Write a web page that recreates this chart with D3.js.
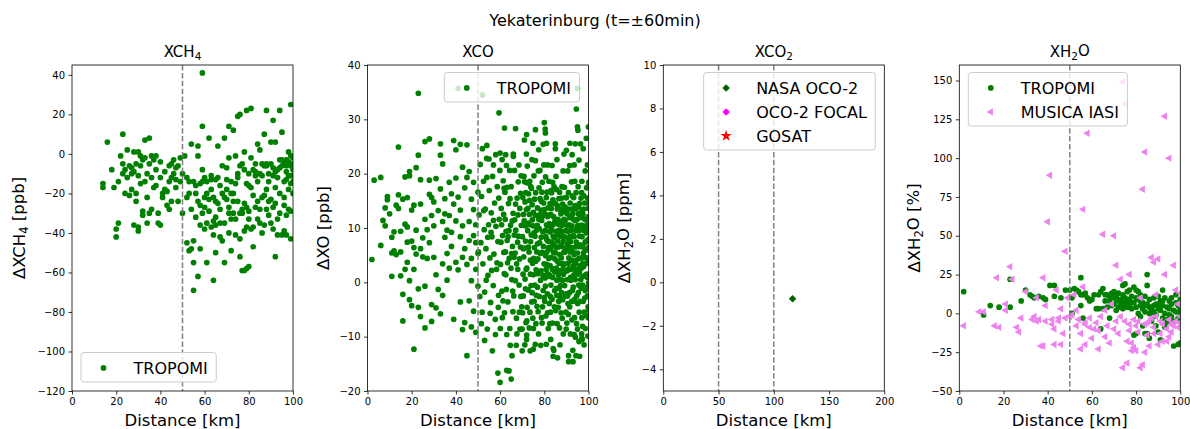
<!DOCTYPE html>
<html>
<head>
<meta charset="utf-8">
<script src="https://cdn.jsdelivr.net/npm/d3@7"></script>
<style>
  body { margin: 0; background: #fff; }
  svg { font-family: "DejaVu Sans", sans-serif; }
</style>
</head>
<body>
<div id="chart"></div>
<script>
// ---- data ----
var suptitle = "Yekaterinburg (t=\u00b160min)";

// XCH4, TROPOMI  [distance km, delta ppb]
var ch4Tropomi = [
  [14,-15],[14,-17],[16,6],[18,-8],[19,-17],[20,-38],[20,-42],[21,-35],[21,-14],[23,10],[23,-5],[23,-10],[24,-8],[24,-20],
  [25,2],[25,-12],[26,-21],[27,-7],[27,-18],[28,1],[28,-36],[28,-9],[29,-5],[29,-20],[29,-24],[30,1],[30,-37],[30,-39],
  [30,-11],[31,-1],[31,-6],[32,-29],[32,-31],[33,7],[33,-14],[33,-2],[34,-10],[34,-22],[34,-35],[35,-5],[35,-30],[35,8],
  [36,-12],[36,-28],[37,-3],[37,-17],[38,-8],[38,-16],[38,-1],[39,-30],[39,-35],[40,-36],[40,-4],[40,-12],[41,-22],[41,-20],
  [42,-18],[42,-9],[43,-26],[43,-19],[44,-28],[44,-6],[45,-12],[45,-24],[46,-3],[46,-10],[47,-17],[47,-13],[48,-24],[48,-6],
  [49,-2],[49,-14],[50,-30],[50,-10],[51,-1],[26,-6],[22,-1],[32,-3],[36,-1],[44,-14],[27,-10],[31,-15],[45,-5],[47,-7],
  [52,-12],[52,-22],[52,-45],[53,-49],[53,-14],[54,5],[54,-28],[54,-48],[55,-55],[55,-69],[55,-44],[55,-14],[56,-20],[56,-32],
  [57,-62],[57,-1],[57,4],[58,-26],[58,-36],[58,-48],[58,-15],[59,41],[59,14],[59,-8],[59,-14],[60,-38],[60,-22],[60,-27],
  [61,-55],[61,-20],[62,8],[62,-23],[62,-29],[63,-13],[63,-11],[64,-64],[64,-41],[64,-34],[64,-22],[65,-50],[65,-13],[65,-32],
  [66,4],[66,-25],[67,-16],[67,-35],[67,-28],[68,-20],[68,-44],[69,8],[69,-55],[69,-35],[70,-7],[70,-23],[70,-13],[71,14],
  [71,-2],[71,-40],[71,-27],[72,-14],[72,-49],[72,-33],[73,12],[73,-24],[73,-30],[74,-1],[74,-41],[75,19],[75,-10],[75,-24],
  [75,-12],[76,20],[76,-52],[76,-43],[77,-28],[77,-59],[77,-30],[78,1],[78,-59],[78,-8],[78,-39],[79,22],[79,-27],[79,-58],
  [80,-10],[80,-29],[80,-33],[80,-57],[81,-2],[81,-17],[81,23],[82,-47],[82,-37],[82,-21],[83,-9],[83,-11],[84,5],[84,-24],
  [84,-33],[85,2],[85,-10],[85,-35],[86,-40],[86,-22],[86,-11],[87,10],[87,-6],[87,-36],[88,22],[88,-18],[88,-28],[88,-5],
  [89,-14],[89,-31],[89,-10],[90,-23],[90,-35],[90,6],[91,17],[91,-11],[91,-27],[91,-38],[92,6],[92,-52],[92,-17],[93,-12],
  [93,-8],[93,-33],[93,-41],[94,-3],[94,22],[94,-20],[95,-41],[95,-6],[95,11],[96,-22],[96,-14],[96,-26],[97,-31],[97,-9],
  [97,-13],[98,1],[98,-4],[98,-28],[98,-18],[99,25],[99,-6],[99,-43],[99,-11],[100,-5],[100,-14],[100,-8],[100,-2],[100,-20],
  [60,-12],[61,-14],[63,-18],[65,-24],[66,-12],[68,-6],[70,-18],[72,-20],[74,-15],[76,-6],[77,-5],[79,-15],[80,-16],[82,-8],
  [83,-5],[84,-14],[86,-5],[88,-6],[90,-5],[91,-7],[92,-9],[94,-7],[96,-5],[97,-3],[98,-11],[99,-15],[100,-11],[53,-20],
  [56,-16],[57,-24],[59,-30],[61,-35],[63,-37],[65,-36],[67,-42],[69,-22],[71,-30],[73,-20],[74,-33],[76,-30],[78,-25],
  [79,-37],[81,-38],[83,-27],[85,-28],[87,-21],[89,-24],[92,-25],[94,-30],[96,-39],[97,-41],[99,-29],[95,-3],[97,-6],[99,-1]
];

// XCO, TROPOMI  [distance km, delta ppb]
var coTropomi = [
  [2,4.2],[3,18.8],[6,19.3],[6,6.8],[7,11.4],[8,13.7],[8,10.4],[9,15.2],[9,15.8],[10,12.6],[11,8.3],[11,1.1],[11,5.4],[12,5.8],
  [12,9.3],[13,14.2],[13,5.1],[14,16.1],[14,24.9],[14,13.6],[15,9.4],[15,5.6],[15,1.2],[16,15.3],[16,-7.1],[16,-2.2],[17,2.4],
  [17,10.7],[17,19.4],[18,15.6],[18,10.2],[18,7.4],[18,3.7],[19,-3.2],[19,19.6],[19,0.3],[19,20.4],[20,-4.3],[20,13.3],[20,7.6],
  [21,-12.3],[21,14.2],[21,2.4],[21,6.4],[22,21.1],[22,9.6],[22,5.2],[23,34.8],[23,23.4],[23,-1.2],[23,-4.6],[24,14.4],[24,6.2],
  [24,-6.3],[24,18.9],[25,4.7],[25,8.2],[26,-8.4],[26,25.9],[26,11.6],[26,-0.7],[27,4.4],[27,9.7],[28,26.4],[28,16.2],[28,7.3],
  [28,18.8],[29,-4.1],[29,-7.2],[29,15.6],[29,12.3],[30,4.6],[30,14.8],[30,10.4],[31,-4.7],[31,19.1],[31,1.4],[32,13.2],[32,-1.3],
  [33,25.5],[33,23.4],[33,-5.8],[33,17.2],[34,21.8],[34,3.4],[34,-2.4],[34,11.2],[35,12.6],[35,8.3],[35,15.4],[36,5.3],[36,0.4],
  [36,9.6],[37,12.3],[37,18.4],[37,2.6],[38,9.2],[38,16.3],[38,6.6],[39,26.1],[39,-6.8],[39,14.4],[40,24.4],[40,11.3],[40,3.7],
  [40,19.2],[41,2.3],[41,15.7],[42,25.4],[42,8.4],[42,-3.6],[42,13.3],[43,21.2],[43,-8.7],[43,10.4],[43,4.6],[44,6.2],[44,-7.4],
  [44,17.4],[45,25.3],[45,-13.5],[45,19.3],[45,3.3],[46,11.2],[46,-3.4],[46,20.4],[46,7.7],[47,15.3],[47,-8.2],[47,4.4],[47,0.3],
  [48,13.4],[48,-5.3],[48,18.4],[48,8.6],[49,-9.2],[49,2.4],[49,7.3],[49,10.6],[50,16.6],[50,-0.7],[50,5.3],[41,35.7],
  [50.5,12.4],[50.8,-2.6],[51,21.7],[51.3,7.3],[51.6,15.8],[51.9,-5.5],[52.2,3.4],[52.5,18.6],[52.8,9.7],[53,-1.8],[53.3,13.5],
  [53.6,6.2],[53.9,22.8],[54.2,-8.6],[54.5,1.3],[54.8,10.6],[55.1,16.9],[55.4,4.5],[55.7,-3.7],[56,12.8],[56.3,8.4],[56.6,19.5],
  [56.9,-0.6],[57.2,5.2],[57.5,14.6],[57.8,-6.8],[58.1,10.3],[58.4,2.4],[58.7,17.6],[59,7.5],[59.3,-2.4],[59.6,11.6],[59.9,20.6],
  [50.2,5.6],[51.5,-7.6],[52.6,13.2],[53.7,0.4],[54.4,8.3],[55.5,-5.7],[56.2,2.2],[57,11.4],[57.9,-9.6],[58.6,3.6],[59.4,15.5],
  [55.9,9.2],[52,24.6],[54,19.3],[58,23.5],[53,-10.7],[56.5,-12.6],[59.2,-4.6],
  [60.2,3.3],[60.5,13.6],[60.8,-1.6],[61.1,8.6],[61.4,18.7],[61.7,5.5],[62,-5.6],[62.3,11.6],[62.6,1.4],[62.9,21.5],[63.2,7.7],
  [63.5,-3.6],[63.8,14.5],[64.1,4.4],[64.4,-8.5],[64.7,10.5],[65,17.6],[65.3,0.5],[65.6,6.6],[65.9,12.7],[66.2,-2.5],[66.5,20.6],
  [66.8,5.4],[67.1,9.6],[67.4,-6.6],[67.7,15.5],[68,2.4],[68.3,8.5],[68.6,-0.5],[68.9,13.6],[69.2,6.5],[69.5,19.6],[69.8,-4.5],
  [60.4,7.4],[61,-6.5],[61.6,12.5],[62.2,16.6],[62.8,-1.3],[63.4,3.6],[64,9.5],[64.6,-11.6],[65.2,5.3],[65.8,-5.4],[66.4,8.7],
  [67,14.4],[67.6,-9.5],[68.2,18.5],[68.8,4.3],[69.4,-2.6],[60.9,22.6],[62.5,23.5],[64.3,20.6],[66,23.6],[68.5,21.6],[61.3,-3.4],
  [63,-9.6],[65.4,-13.5],[67.3,-11.6],[69,-8.6],[60.7,10.6],[61.9,1.6],[63.6,8.4],[64.9,2.6],[66.6,11.5],[67.9,7.4],[69.6,10.5],
  [62.4,5.6],[64.5,15.4],[66.9,0.3],[68.1,12.4],[63.1,17.5],[65.5,11.3],[67.5,3.4],[69.3,16.4],[60.1,-8.5],[61.8,17.3],
  [65.7,-1.6],[68.7,-5.5],[62.7,9.4],[66.3,4.6],
  [70.1,8.4],[70.3,15.6],[70.5,-2.5],[70.7,4.7],[70.9,11.3],[71.1,18.5],[71.3,0.6],[71.5,7.6],[71.7,-7.4],[71.9,13.4],[72.1,2.6],
  [72.3,21.4],[72.5,9.5],[72.7,-1.4],[72.9,16.3],[73.1,5.6],[73.3,12.5],[73.5,-5.5],[73.7,1.5],[73.9,17.6],[74.1,8.7],[74.3,-3.6],
  [74.5,14.3],[74.7,3.5],[74.9,10.4],[75.1,-8.5],[75.3,19.6],[75.5,6.4],[75.7,-0.5],[75.9,12.3],[76.1,16.5],[76.3,2.3],[76.5,9.6],
  [76.7,-4.4],[76.9,13.7],[77.1,4.3],[77.3,20.5],[77.5,11.6],[77.7,-2.6],[77.9,7.3],[78.1,15.4],[78.3,0.4],[78.5,13.3],[78.7,-6.5],
  [78.9,5.5],[79.1,18.4],[79.3,9.3],[79.5,-1.5],[79.7,14.6],[79.9,3.4],[70.2,-5.6],[70.8,19.5],[71.4,10.4],[72,-10.5],[72.6,13.6],
  [73.2,-8.4],[73.8,7.5],[74.4,22.6],[75,1.4],[75.6,15.3],[76.2,-7.6],[76.8,10.5],[77.4,-9.5],[78,20.6],[78.6,8.3],[79.2,-4.5],
  [79.8,21.6],[70.4,1.5],[71,6.3],[71.6,16.5],[72.2,-4.6],[72.8,6.5],[73.4,18.6],[74,-0.6],[74.6,11.5],[75.2,4.4],[75.8,8.5],
  [76.4,-2.4],[77,1.6],[77.6,17.4],[78.2,5.3],[78.8,11.4],[79.4,1.3],[70.6,12.5],[71.8,2.4],[73,10.6],[74.2,17.3],[75.4,-3.5],
  [76.6,5.6],[77.8,12.4],[79,-7.5],[71.2,-11.5],[73.6,-12.6],[75.9,-11.4],[78.4,-11.6],[74.8,-6.6],[77.2,-5.4],[79.6,6.6],
  [72.4,18.3],[76,22.4],[78.9,16.6],[70,-8.6],[71.9,23.6],[74.9,25.6],[77.5,24.4],[79.5,25.4],
  [70.5,6.2],[71.3,14.8],[72.1,-7.1],[72.9,10.9],[73.7,4.1],[74.5,-1.9],[75.3,9.1],[76.1,3.9],[76.9,-0.9],[77.7,9.9],[78.5,2.1],
  [79.3,12.2],[71.5,-1.2],[73.3,15.1],[75.1,12.9],[76.9,7.1],[78.7,14.9],[79.9,-2.8],
  [80.1,5.3],[80.3,12.6],[80.5,-0.7],[80.7,8.4],[80.9,15.6],[81.1,3.3],[81.3,10.4],[81.5,-5.6],[81.7,13.7],[81.9,6.4],[82.1,18.6],
  [82.3,1.4],[82.5,9.3],[82.7,-2.6],[82.9,12.5],[83.1,4.6],[83.3,16.5],[83.5,7.4],[83.7,-7.5],[83.9,10.6],[84.1,2.5],[84.3,14.6],
  [84.5,8.3],[84.7,-1.5],[84.9,11.5],[85.1,5.4],[85.3,19.5],[85.5,9.4],[85.7,0.4],[85.9,13.5],[86.1,6.5],[86.3,-4.6],[86.5,10.7],
  [86.7,3.5],[86.9,16.6],[87.1,8.5],[87.3,-0.6],[87.5,12.6],[87.7,4.5],[87.9,10.5],[88.1,-6.6],[88.3,14.4],[88.5,7.6],[88.7,1.5],
  [88.9,11.6],[89.1,17.5],[89.3,5.6],[89.5,-2.5],[89.7,9.5],[89.9,13.4],
  [80.2,-3.5],[80.6,19.4],[81,10.6],[81.4,1.6],[81.8,-8.5],[82.2,7.5],[82.6,14.5],[83,-0.5],[83.4,9.6],[83.8,18.4],[84.2,5.5],
  [84.6,-4.5],[85,14.5],[85.4,2.6],[85.8,-7.6],[86.2,11.6],[86.6,15.4],[87,-2.6],[87.4,6.6],[87.8,15.5],[88.2,3.4],[88.6,-9.5],
  [89,8.4],[89.4,11.4],[89.8,-5.5],
  [80.4,9.5],[80.8,2.4],[81.2,16.6],[81.6,7.6],[82,4.4],[82.4,12.4],[82.8,-5.5],[83.2,13.6],[83.6,2.4],[84,8.5],[84.4,17.6],
  [84.8,4.3],[85.2,11.4],[85.6,-2.4],[86,7.6],[86.4,1.4],[86.8,9.6],[87.2,13.5],[87.6,-5.6],[88,9.4],[88.4,10.6],[88.8,5.5],
  [89.2,-0.6],[89.6,15.6],
  [80,13.4],[81.5,21.6],[82.9,-10.5],[84.3,-12.5],[85.7,22.6],[87.1,-11.5],[88.5,20.5],[89.9,-8.6],[80.9,-11.4],[83.5,21.5],
  [86.9,-8.4],[88,17.6],[84,-13.6],[81,25.6],[85,24.6],[88.9,23.6],[80.5,27.5],[82.5,-7.6],[86.5,-3.5],[83,6.4],[87,0.5],[89,3.4],
  [81.2,5.6],[85.5,6.4],[88.3,0.4],
  [80.3,0.8],[80.7,-6.2],[81.1,7.9],[81.5,12.1],[81.9,1.1],[82.3,-3.9],[82.7,6.1],[83.1,9.9],[83.5,-3.1],[83.9,15.2],[84.3,6.8],
  [84.7,1.9],[85.1,-5.2],[85.5,17.1],[85.9,3.9],[86.3,8.8],[86.7,-1.1],[87.1,11.1],[87.5,2.2],[87.9,6.9],[88.3,-3.2],[88.7,13.1],
  [89.1,2.1],[89.5,6.1],[89.9,-2.1],[80.6,4.9],[81.4,-2.1],[82.2,10.8],[83,16.9],[83.8,0.9],[84.6,10.9],[85.4,-1.1],[86.2,1.9],
  [87,5.1],[87.8,-1.9],[88.6,3.1],[89.4,13.9],[82.6,3.1],[84.2,12.1],[86,14.1],[88,12.9],
  [90.1,6.4],[90.3,12.6],[90.5,0.5],[90.7,9.4],[90.9,16.5],[91.1,4.5],[91.3,10.6],[91.5,-4.5],[91.7,14.6],[91.9,7.5],[92.1,2.4],
  [92.3,18.5],[92.5,10.4],[92.7,-1.5],[92.9,12.6],[93.1,5.5],[93.3,15.6],[93.5,8.4],[93.7,-6.5],[93.9,11.4],[94.1,3.4],[94.3,13.5],
  [94.5,7.4],[94.7,-2.5],[94.9,11.6],[95.1,1.5],[95.3,17.6],[95.5,9.5],[95.7,4.4],[95.9,14.5],[96.1,6.6],[96.3,-3.5],[96.5,10.5],
  [96.7,2.6],[96.9,16.5],[97.1,8.4],[97.3,-0.5],[97.5,12.5],[97.7,5.4],[97.9,9.6],[98.1,-5.5],[98.3,14.6],[98.5,7.4],[98.7,1.4],
  [98.9,11.5],[99.1,17.4],[99.3,4.5],[99.5,-2.5],[99.7,9.4],[99.9,13.6],
  [90.2,-7.5],[90.6,20.5],[91,2.5],[91.4,8.4],[91.8,-9.5],[92.2,6.4],[92.6,13.5],[93,-3.5],[93.4,1.4],[93.8,18.6],[94.2,9.5],
  [94.6,-7.6],[95,5.4],[95.4,12.6],[95.8,-5.5],[96.2,10.4],[96.6,15.5],[97,-6.5],[97.4,3.5],[97.8,13.5],[98.2,4.6],[98.6,-8.5],
  [99,7.5],[99.4,10.6],[99.8,-4.5],
  [90.4,10.5],[90.8,3.5],[91.2,13.5],[91.6,5.6],[92,9.6],[92.4,-3.5],[92.8,8.5],[93.2,11.6],[93.6,3.4],[94,6.5],[94.4,16.5],
  [94.8,2.4],[95.2,10.5],[95.6,-0.5],[96,8.5],[96.4,12.5],[96.8,4.5],[97.2,10.5],[97.6,-3.5],[98,9.5],[98.4,11.6],[98.8,3.5],
  [99.2,1.5],[99.6,15.5],[100,6.4],
  [90,15.6],[91.5,21.5],[92.9,-12.5],[94.3,-13.5],[95.7,22.5],[97.1,-10.5],[98.5,20.5],[99.9,-6.5],[91,-13.5],[93.5,21.6],
  [96.9,-9.5],[98,-11.5],[94,25.5],[91.6,25.6],[95,28.6],[96.4,25.5],[99,26.5],[100,28.6],[94.5,31.9],[95.2,28],[97.6,24.6],
  [92.6,23.5],[99.5,21.6],[90.5,-2.5],[92,0.4],[93,8.6],[94,0.5],[95.5,6.6],[96.5,0.5],[97.5,6.5],[98.5,-1.5],[99.5,3.5],
  [100,1.4],[100,10.4],[100,-2.6],[100,14.6],[99.8,17.6],[97,18.6],[95,-8.6],[93,-14.6],[96,-13.6],[91,-14.6],[93.5,-9.6],
  [90.3,2.1],[90.7,-3.9],[91.1,7.9],[91.5,11.9],[91.9,0.9],[92.3,4.1],[92.7,15.9],[93.1,-0.9],[93.5,5.1],[93.9,14.1],[94.3,2.1],
  [94.7,9.9],[95.1,-3.9],[95.5,13.9],[95.9,1.9],[96.3,6.9],[96.7,-1.1],[97.1,11.9],[97.5,1.1],[97.9,15.9],[98.3,-2.9],[98.7,5.9],
  [99.1,9.1],[99.5,0.9],[99.9,7.9],[90.6,7.1],[91.4,-1.9],[92.2,12.1],[93,2.9],[93.8,-3.1],[94.6,4.1],[95.4,-1.9],[96.2,3.1],
  [97,13.1],[97.8,2.9],[98.6,10.1],[99.4,-0.9],[100,4.1],[100,-5.1],[100,12.1],[100,7.9],[100,18.4],[100,-0.1],[90.9,-5.9],
  [92.5,-6.9],[94.1,-10.1],[95.7,-10.9],[97.3,-8.1],[98.9,-6.1],[99.7,-9.9],
  [59,-16.7],[60,-18.4],[63,-16.2],[64,-16.3],[65,-17.8],[70,-12.6],[72,-9.7],[75,-12.3],[59.5,31.2],[62,28.4],[67,28.3],[71,26.2],
  [72,27.2],[76,28.1],[80,29.4],[80.4,28.2],[52,34.5],[54,25.2],[60,23.8],[55,22.7],[57,21.6],[66,23.2],[85,25.5],[90,24.3],
  [95,35.7],[84,-12.2],[86,-13.9],[97,-10.3]
];

// XCO2
var co2Oco2 = [[117,-0.75]];
var co2Focal = [];
var co2Gosat = [];

// XH2O  [distance km, delta %]
var h2oTropomi = [
  [2,14],[11,-1],[14,5],[18,4],[23,4],[23,22],[28,8],[30,15],[32,12],[33,11],[34,10],[36,11],[38,10],[39,9],[41,18],[43,18],
  [43,11],[46,10],[48,15],[50,15],[51,10],[51,0],[52,16],[53,15],[54,14],[55,23],[55,5],[55,12],[56,12],[56,-3],[57,13],
  [58,10],[59,8],[60,9],[61,12],[62,3],[63,3],[63,12],[64,-10],[64,14],[65,16],[65,3],[66,12],[67,12],[67,4],[68,-3],[68,8],
  [69,13],[69,5],[70,10],[70,14],[71,11],[71,9],[71,2],[72,8],[72,13],[73,6],[73,9],[74,12],[74,3],[74,18],[75,19],[75,10],
  [75,6],[76,4],[76,14],[77,9],[77,15],[77,5],[78,11],[78,3],[79,7],[79,17],[79,-14],[80,15],[80,4],[80,-13],[81,14],[81,9],
  [81,0],[82,8],[82,12],[82,-2],[83,7],[83,3],[83,-8],[84,5],[84,11],[84,-13],[85,25],[85,18],[85,6],[85,-13],[86,0],[86,-16],
  [86,9],[87,4],[87,2],[87,-5],[88,5],[88,10],[88,-2],[89,-1],[89,6],[89,-8],[90,3],[90,-12],[90,11],[91,-17],[91,8],[91,2],
  [92,15],[92,-3],[92,5],[93,-9],[93,10],[93,0],[94,4],[94,-4],[95,8],[95,3],[95,-1],[96,10],[96,6],[97,-21],[97,2],[97,-5],
  [98,7],[98,1],[99,-20],[99,5],[100,0],[100,-19],[100,9],[100,3],[99,-3],[98,12],[96,-2],[94,-6],[92,8],[90,6],[88,1],[86,4],
  [84,1],[82,5],[80,10],[78,7],[76,8],[74,7],[72,4],[70,6],[68,11],[66,8]
];
var h2oIasi = [
  [2,-8],[9,1],[11,1],[16,-8],[18,-9],[17,23],[21,2],[21,6],[23,30],[24,22],[27,-12],[30,14],[34,-2],[35,-5],[35,10],[37,-21],
  [38,-21],[38,23],[39,5],[39,-5],[40,59],[41,89],[42,-4],[42,-7],[43,-10],[44,15],[45,-5],[46,-20],[46,3],[47,-13],[48,40],
  [49,10],[50,-2],[51,-1],[52,12],[53,2],[54,-4],[55,-13],[55,-23],[56,67],[56,17],[57,-7],[57,-6],[58,116],[59,-3],[60,-16],
  [61,-10],[62,-6],[63,-23],[64,-2],[65,51],[66,-15],[66,2],[67,-8],[68,-19],[70,50],[70,-10],[71,31],[71,-5],[72,-13],[73,-2],
  [73,22],[74,-35],[74,149],[75,135],[75,-5],[76,-32],[77,25],[77,-11],[78,-19],[78,-24],[79,-4],[79,-22],[80,-8],[81,-12],
  [81,-5],[82,-35],[82,10],[83,80],[83,-33],[84,104],[84,-7],[85,-14],[86,-21],[86,-5],[87,36],[87,-3],[88,33],[88,-9],[89,-2],
  [89,12],[90,-20],[90,35],[91,-13],[91,-5],[92,-7],[93,127],[93,25],[94,-18],[94,-10],[95,100],[95,-4],[96,-7],[96,-12],
  [97,31],[97,-8],[98,15],[98,-5],[99,-9],[99,6],[100,-6],[100,13],[100,-2],[84,-25],[80,-24],[77,-7],[76,-18],[69,6],[63,-11],
  [59,-9],[57,-20],[53,-8],[48,-3],[45,-3],[43,-20],[36,-4],[33,-4],[28,-3],[26,-9],[85,-6],[88,-13],[92,-18],[95,-15]
];

var xTicks100 = [0, 20, 40, 60, 80, 100];
var xTicks200 = [0, 50, 100, 150, 200];
var yTicksCh4 = [-120, -100, -80, -60, -40, -20, 0, 20, 40];
var yTicksCo = [-20, -10, 0, 10, 20, 30, 40];
var yTicksCo2 = [-4, -2, 0, 2, 4, 6, 8, 10];
var yTicksH2o = [-50, -25, 0, 25, 50, 75, 100, 125, 150];

// ---- layout ----
var width = 1190, height = 429;
var top_ = 65, bottom_ = 391, axW = 221;
var lefts = [72, 367.5, 663.3, 959.3];

var svg = d3.select("#chart").append("svg")
  .attr("width", width).attr("height", height);

svg.append("text")
  .attr("x", 595).attr("y", 26)
  .attr("text-anchor", "middle")
  .style("font-size", "16px")
  .text(suptitle);

// writes [text, isSub] pieces into a text element
function richText(sel, parts) {
  parts.forEach(function(p) {
    var t = sel.append("tspan").text(p[0]);
    if (p[1]) t.style("font-size", "0.7em").attr("dy", "0.25em");
    else if (sel.selectAll("tspan").size() > 1) t.attr("dy", "-0.25em");
  });
}

var symDiamond = d3.symbol().type(d3.symbolSquare).size(28);
var symTri = d3.symbol().type(d3.symbolTriangle).size(24);
var symStar = d3.symbol().type(d3.symbolStar).size(40);

function placeMarker(g, kind, color, px, py) {
  if (kind === "dot") {
    return g.append("circle").attr("cx", px).attr("cy", py).attr("r", 2.85).attr("fill", color);
  }
  var d = kind === "diamond" ? symDiamond() : kind === "tri" ? symTri() : symStar();
  var rot = kind === "diamond" ? " rotate(45)" : kind === "tri" ? " rotate(-90)" : "";
  return g.append("path").attr("d", d).attr("fill", color)
    .attr("transform", "translate(" + px + "," + py + ")" + rot);
}

function drawPanel(i, cfg) {
  var left = lefts[i];
  var x = d3.scaleLinear().domain(cfg.xDomain).range([left, left + axW]);
  var y = d3.scaleLinear().domain(cfg.yDomain).range([bottom_, top_]);
  var g = svg.append("g");

  var clipId = "clip" + i;
  svg.append("clipPath").attr("id", clipId).append("rect")
    .attr("x", left).attr("y", top_).attr("width", axW).attr("height", bottom_ - top_);

  var plot = g.append("g").attr("clip-path", "url(#" + clipId + ")");
  cfg.series.forEach(function(s) {
    s.data.forEach(function(d) {
      placeMarker(plot, s.marker, s.color, x(d[0]), y(d[1]));
    });
  });

  cfg.vlines.forEach(function(v) {
    plot.append("line")
      .attr("x1", x(v)).attr("x2", x(v)).attr("y1", top_).attr("y2", bottom_)
      .attr("stroke", "#808080").attr("stroke-width", 1.5)
      .attr("stroke-dasharray", "5.5,2.4");
  });

  var xAxis = d3.axisBottom(x).tickValues(cfg.xTicks).tickSize(3.5).tickPadding(3.5).tickSizeOuter(0);
  var yAxis = d3.axisLeft(y).tickValues(cfg.yTicks).tickSize(3.5).tickPadding(3.5).tickSizeOuter(0);
  var gx = g.append("g").attr("transform", "translate(0," + bottom_ + ")").call(xAxis);
  var gy = g.append("g").attr("transform", "translate(" + left + ",0)").call(yAxis);
  [gx, gy].forEach(function(a) {
    a.select(".domain").remove();
    a.selectAll("text").style("font-size", "10px").style("font-family", "DejaVu Sans").attr("fill", "#000");
    a.selectAll("line").attr("stroke", "#000").attr("stroke-width", 0.8);
  });

  g.append("rect")
    .attr("x", left).attr("y", top_).attr("width", axW).attr("height", bottom_ - top_)
    .attr("fill", "none").attr("stroke", "#000").attr("stroke-width", 0.8);

  richText(g.append("text")
    .attr("x", left + axW / 2).attr("y", 57)
    .attr("text-anchor", "middle").style("font-size", "15px"), cfg.title);

  g.append("text")
    .attr("x", left + axW / 2).attr("y", 426)
    .attr("text-anchor", "middle").style("font-size", "16.5px")
    .text("Distance [km]");

  var ly = (top_ + bottom_) / 2, lx = left - cfg.ylabelOffset;
  richText(g.append("text")
    .attr("transform", "translate(" + lx + "," + ly + ") rotate(-90)")
    .attr("y", 6)
    .attr("text-anchor", "middle").style("font-size", "16.5px"), cfg.ylabel);

  // legend
  var leg = g.append("g");
  var box = leg.append("rect")
    .attr("fill", "#fff").attr("fill-opacity", 0.8)
    .attr("stroke", "#cccccc").attr("stroke-width", 1).attr("rx", 3);
  var maxW = 0;
  var items = cfg.series.map(function(s) {
    var t = leg.append("text").style("font-size", "16px").text(s.name);
    maxW = Math.max(maxW, t.node().getComputedTextLength());
    return t;
  });
  var n = cfg.series.length;
  var bw = 52.5 + maxW + 8.5, bh = 29.5 + 24 * (n - 1);
  var bx, by;
  if (cfg.legend === "lower left") { bx = left + 9; by = bottom_ - 9 - bh; }
  else if (cfg.legend === "upper right") { bx = left + axW - 9 - bw; by = top_ + 7.5; }
  else { bx = left + 9; by = top_ + 7.5; }
  box.attr("x", bx).attr("y", by).attr("width", bw).attr("height", bh);
  cfg.series.forEach(function(s, k) {
    var cy = by + 15.4 + 24 * k;
    placeMarker(leg, s.marker, s.color, bx + 22.5, cy);
    items[k].attr("x", bx + 52.5).attr("y", cy + 5.8);
  });
}

drawPanel(0, {
  xDomain: [0, 100], yDomain: [-120, 45], xTicks: xTicks100, yTicks: yTicksCh4,
  title: [["XCH"], ["4", true]], ylabel: [["\u0394XCH"], ["4", true], [" [ppb]"]], ylabelOffset: 53,
  vlines: [50], legend: "lower left",
  series: [{ name: "TROPOMI", data: ch4Tropomi, marker: "dot", color: "#008000" }]
});

drawPanel(1, {
  xDomain: [0, 100], yDomain: [-20, 40], xTicks: xTicks100, yTicks: yTicksCo,
  title: [["XCO"]], ylabel: [["\u0394XO [ppb]"]], ylabelOffset: 44.5,
  vlines: [50], legend: "upper right",
  series: [{ name: "TROPOMI", data: coTropomi, marker: "dot", color: "#008000" }]
});

drawPanel(2, {
  xDomain: [0, 200], yDomain: [-5, 10], xTicks: xTicks200, yTicks: yTicksCo2,
  title: [["XCO"], ["2", true]], ylabel: [["\u0394XH"], ["2", true], ["O [ppm]"]], ylabelOffset: 39.5,
  vlines: [50, 100], legend: "upper right",
  series: [
    { name: "NASA OCO-2", data: co2Oco2, marker: "diamond", color: "#006400" },
    { name: "OCO-2 FOCAL", data: co2Focal, marker: "diamond", color: "#ff00ff" },
    { name: "GOSAT", data: co2Gosat, marker: "star", color: "#ff0000" }
  ]
});

drawPanel(3, {
  xDomain: [0, 100], yDomain: [-50, 160], xTicks: xTicks100, yTicks: yTicksH2o,
  title: [["XH"], ["2", true], ["O"]], ylabel: [["\u0394XH"], ["2", true], ["O [%]"]], ylabelOffset: 45.5,
  vlines: [50], legend: "upper left",
  series: [
    { name: "TROPOMI", data: h2oTropomi, marker: "dot", color: "#008000" },
    { name: "MUSICA IASI", data: h2oIasi, marker: "tri", color: "#ee82ee" }
  ]
});
</script>
</body>
</html>
